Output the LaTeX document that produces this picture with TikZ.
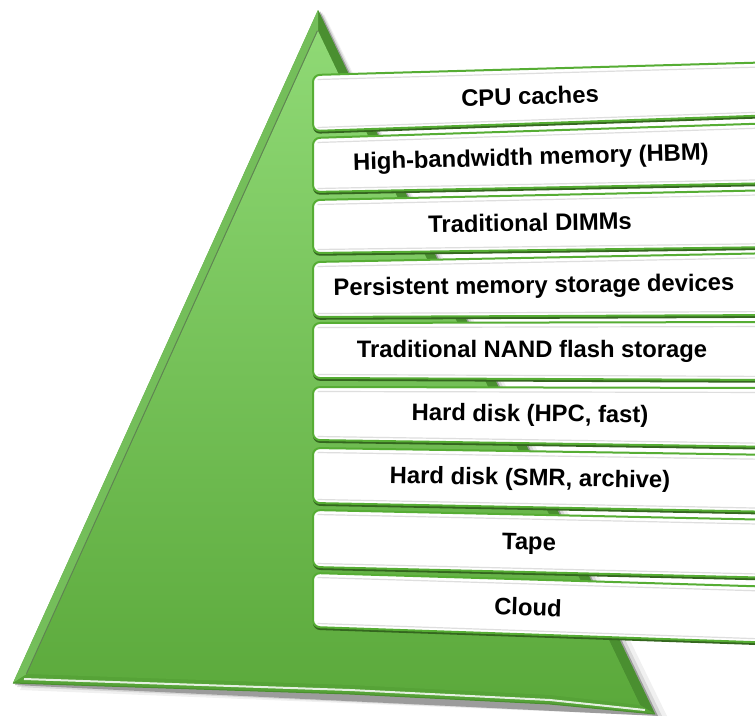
\documentclass[tikz,border=0pt]{standalone}
\usepackage{fontspec}
\setmainfont{Liberation Sans}
\definecolor{gtop}{HTML}{8FD975}
\definecolor{gbot}{HTML}{5BA93B}
\definecolor{gdark}{HTML}{4A8F30}
\definecolor{gmid}{HTML}{56A337}
\definecolor{gleft}{HTML}{74BE5A}
\definecolor{bline}{HTML}{56AD34}
\definecolor{bshadow}{HTML}{34661F}
\tikzset{
  tiertext/.style={font=\bfseries\fontsize{23.8}{28}\selectfont, text=black, inner sep=0pt},
  tierfill/.style={fill=white, draw=bline, line width=2pt, rounded corners=7pt},
  tiershadow/.style={fill=bshadow, rounded corners=7pt},
  tierinner/.style={draw=black!13, line width=1.2pt, rounded corners=5pt}
}
\newcommand\tierbox[4]{%
  \fill[tiershadow] (313,#1+1.5) -- (780,#3+1.5) -- (780,#4+2.8) -- (313,#2+2.8) -- cycle;
  \path[tierfill] (313,#1) -- (780,#3) -- (780,#4) -- (313,#2) -- cycle;
  \draw[tierinner] (317.5,#1+4.5) -- (780,#3+4.5) -- (780,#4-3.5) -- (317.5,#2-3.5);
}
\begin{document}
\begin{tikzpicture}[x=1pt,y=-1pt]
\useasboundingbox (0,0) rectangle (755,718);
% shadow of pyramid
\fill[black,opacity=0.06] (324,14) -- (667,716) -- (20,690) -- cycle;
\fill[black,opacity=0.10] (322,12) -- (662,716) -- (17,687) -- cycle;
\fill[black,opacity=0.28] (320,11) -- (658,716) -- (15,685) -- cycle;
% outer pyramid (bevel)
\fill[gmid] (318,10) -- (13,683) -- (350,694) -- (550,704) -- (655,714) -- cycle;
% right bevel
\fill[gdark] (318,10) -- (655,714) -- (640,705) -- (318,31) -- cycle;
% left bevel
\fill[gleft] (318,10) -- (13,683) -- (27,674) -- (318,31) -- cycle;
\draw[line width=2.2pt, color=black!30!gleft!70!gray] (318,31) -- (27,674);
% bottom bevel
\fill[gmid] (13,683) -- (350,694) -- (550,704) -- (655,714) -- (640,705) -- (550,695) -- (350,685) -- (27,674) -- cycle;
% inner face
\shade[top color=gtop, bottom color=gbot] (318,31) -- (27,674) -- (350,685) -- (550,695) -- (640,705) -- cycle;
% bottom highlight
\draw[white, opacity=0.85, line width=2pt] (24,679) -- (350,690) -- (550,700) -- (645,710);
\draw[gdark, line width=1pt] (13,683) -- (350,694) -- (550,704) -- (655,714);
% tiers
\tierbox{75}{131}{62}{115}
\tierbox{138}{192}{123}{183}
\tierbox{200}{253}{190}{247}
\tierbox{262}{317}{253}{315}
\tierbox{323}{378}{322}{380}
\tierbox{387}{440}{388}{447}
\tierbox{448}{503}{455}{512}
\tierbox{510}{567}{520}{578}
\tierbox{573}{627}{587}{643}
\node[tiertext, rotate=1.8] (t1) at (530,96) {CPU caches};
\node[tiertext, rotate=1.6] (t2) at (531,159) {High-bandwidth memory (HBM)};
\node[tiertext, rotate=1.0] (t3) at (530,222.5) {Traditional DIMMs};
\node[tiertext, rotate=0.7] (t4) at (534,287) {Persistent memory storage devices};
\node[tiertext] (t5) at (532,351) {Traditional NAND flash storage};
\node[tiertext, rotate=-0.5] (t6) at (530,415.5) {Hard disk (HPC, fast)};
\node[tiertext, rotate=-1.0] (t7) at (530,479.5) {Hard disk (SMR, archive)};
\node[tiertext, rotate=-1.4] (t8) at (529,544) {Tape};
\node[tiertext, rotate=-1.9] (t9) at (528,607) {Cloud};
\end{tikzpicture}
\end{document}
